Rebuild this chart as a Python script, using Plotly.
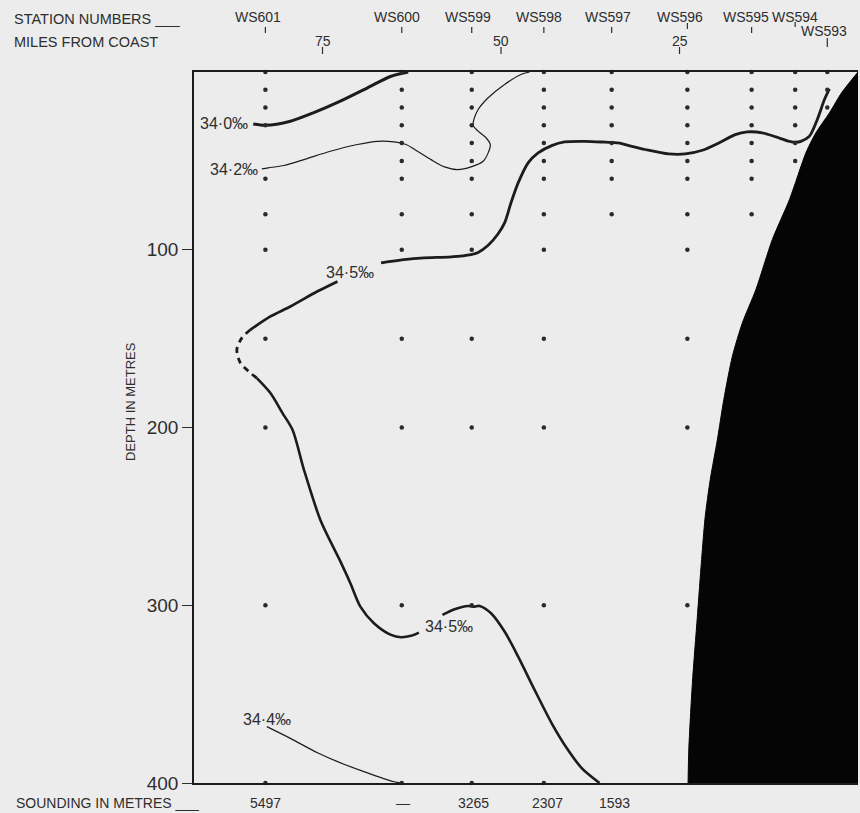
import plotly.graph_objects as go

# ---------------- data ----------------
stations = ["WS601", "WS600", "WS599", "WS598", "WS597", "WS596", "WS595", "WS594", "WS593"]
station_miles = [83.0, 63.9, 54.1, 44.0, 34.5, 23.9, 14.9, 8.8, 4.3]
station_depths = [
    [0, 10, 20, 30, 60, 80, 100, 150, 200, 300, 400],
    [0, 10, 20, 30, 40, 50, 60, 80, 100, 150, 200, 300, 400],
    [0, 10, 20, 30, 40, 50, 60, 80, 100, 150, 200, 300, 400],
    [0, 10, 20, 30, 40, 50, 60, 80, 100, 150, 200, 300, 400],
    [0, 10, 20, 30, 40, 50, 60, 80],
    [0, 10, 20, 30, 40, 50, 60, 80, 100, 150, 200, 300],
    [0, 10, 20, 30, 40, 50, 60, 80],
    [0, 10, 20, 30, 40, 50],
    [0, 10, 20],
]
mile_ticks = [75, 50, 25]
depth_ticks = [100, 200, 300, 400]
sounding_labels = ["5497", "—", "3265", "2307", "1593"]

# isohaline 34.0 per mille
s340_miles = [84.7, 83.0, 79.5, 76.3, 72.5, 68.7, 65.4, 63.0]
s340_depth = [29.2, 30.0, 27.7, 23.0, 16.4, 8.9, 2.4, 0.0]

# isohaline 34.2 per mille
s342_miles = [83.5, 82.6, 80.4, 77.6, 73.9, 70.1, 67.3, 65.0, 63.3, 61.7, 59.8, 57.9, 56.1,
              54.2, 52.5, 51.8, 51.5, 52.1, 53.2, 53.9, 53.8, 53.2, 51.8, 49.5, 47.2, 46.0]
s342_depth = [54.5, 53.9, 52.6, 49.3, 44.6, 40.8, 39.0, 39.3, 40.8, 44.6, 49.3, 53.4, 54.9,
              53.4, 50.2, 45.5, 40.8, 37.0, 33.3, 30.0, 26.7, 21.1, 14.5, 7.0, 1.4, 0.0]

# isohaline 34.5 per mille (pieces: upper, to label, dashed, middle, lower)
s345a_miles = [4.0, 4.7, 5.7, 6.8, 8.0, 8.7, 9.6, 11.5, 13.4, 15.5, 17.2, 19.5, 21.8, 24.2,
               26.5, 29.8, 32.1, 33.6, 35.4, 38.2, 41.1, 42.9, 44.8, 46.2, 47.6, 48.6, 49.5,
               50.4, 51.8, 53.2, 54.2, 57.0, 60.8, 63.6, 66.8]
s345a_depth = [9.5, 15.5, 26.7, 36.1, 39.0, 39.5, 39.0, 36.5, 34.2, 33.7, 35.2, 39.9, 44.0, 46.1,
               46.1, 43.6, 41.4, 39.9, 39.5, 39.0, 39.3, 41.4, 45.5, 51.1, 62.4, 73.6, 84.9,
               91.0, 97.5, 101.5, 102.7, 104.0, 104.6, 105.6, 107.4]
s345b_miles = [72.9, 75.7, 79.5, 82.3, 85.1]
s345b_depth = [117.8, 123.4, 131.9, 137.5, 145.0]
s345c_miles = [85.1, 86.3, 87.0, 86.5, 85.1, 84.2]
s345c_depth = [145.0, 149.6, 156.2, 163.7, 169.3, 172.2]
s345d_miles = [84.2, 82.3, 80.6, 79.2, 77.6, 75.3, 72.6, 71.1, 69.7, 67.8, 65.4, 64.0, 62.6, 61.5]
s345d_depth = [172.2, 180.6, 191.9, 201.3, 223.8, 252.0, 274.5, 287.6, 300.8, 310.1, 316.7,
               318.0, 317.2, 315.4]
s345e_miles = [58.2, 56.5, 54.6, 53.7, 53.0, 51.4, 49.5, 47.6, 45.3, 42.9, 40.8, 38.7, 36.2]
s345e_depth = [305.4, 302.2, 300.4, 300.8, 300.4, 304.5, 314.8, 328.9, 347.6, 366.4, 380.3,
               391.6, 400.0]

# isohaline 34.4 per mille
s344_miles = [82.8, 79.5, 75.7, 72.9, 69.2, 65.0, 64.0]
s344_depth = [368.3, 374.9, 383.0, 388.0, 393.6, 399.3, 400.0]

# contour labels
iso_labels = ["34·0‰", "34·2‰", "34·5‰", "34·5‰", "34·4‰"]
iso_label_miles = [88.8, 87.4, 71.1, 57.3, 82.8]
iso_label_depth = [29.0, 54.9, 112.7, 312.0, 364.2]

# sea bed profile
bed_miles = [0.0, 2.3, 4.0, 5.9, 7.3, 9.6, 12.0, 14.3, 16.2, 17.6, 18.8, 19.7, 20.7, 21.4,
             21.8, 22.5, 23.2, 23.7, 23.8]
bed_depth = [0.0, 11.7, 23.0, 34.2, 45.5, 71.8, 94.3, 122.4, 141.2, 160.0, 184.4, 206.9,
             229.4, 250.1, 268.8, 306.4, 343.9, 381.4, 400.0]

# ---------------- style ----------------
BG = "#ececec"
INK = "#1c1c1c"
TXT = "#2e2e2e"
FONT = "Liberation Sans"
X_RANGE = [93.0, 0.0]
Y_RANGE = [400, 0]
ML, MR, MT, MB = 194, 2, 72, 30
W, H = 860, 813
PW = W - ML - MR
PH = H - MT - MB


def xp(px):
    return (px - ML) / PW


def yp(py):
    return (H - MB - py) / PH


fig = go.Figure()

# sea bed: smooth profile filled to the coast line (x = 0)
fig.add_trace(go.Scatter(
    x=bed_miles, y=bed_depth,
    mode="lines", fill="tozerox", fillcolor="#050505",
    line=dict(width=1, color="#050505", shape="spline", smoothing=0.7),
    hoverinfo="skip", showlegend=False))

# isohalines
def add_line(xs, ys, width, dash="solid"):
    fig.add_trace(go.Scatter(
        x=xs, y=ys, mode="lines",
        line=dict(color=INK, width=width, dash=dash, shape="spline", smoothing=0.8),
        showlegend=False, hoverinfo="skip", cliponaxis=False))

add_line(s340_miles, s340_depth, 3.0)
add_line(s342_miles, s342_depth, 1.2)
add_line(s345a_miles, s345a_depth, 2.8)
add_line(s345b_miles, s345b_depth, 2.8)
add_line(s345c_miles, s345c_depth, 2.8, dash="6px,5px")
add_line(s345d_miles, s345d_depth, 2.6)
add_line(s345e_miles, s345e_depth, 2.6)
add_line(s344_miles, s344_depth, 1.2)

# station sample dots
dot_x, dot_y = [], []
for m, ds in zip(station_miles, station_depths):
    for d in ds:
        dot_x.append(m)
        dot_y.append(d)
fig.add_trace(go.Scatter(
    x=dot_x, y=dot_y, mode="markers",
    marker=dict(size=4.5, color="#2a2a2a"),
    showlegend=False, hoverinfo="skip", cliponaxis=False))

annotations = []
shapes = []

# contour labels
for t, m, d in zip(iso_labels, iso_label_miles, iso_label_depth):
    annotations.append(dict(x=m, y=d, xref="x", yref="y", text=t, showarrow=False,
                            xanchor="center", yanchor="middle",
                            font=dict(family=FONT, size=16, color=TXT)))

# station labels and ticks (top)
st_label_py = [17, 17, 17, 17, 17, 17, 17, 17, 31]
st_xshift = [-7, -5, -4, -5, -4, -7, -6, 0, -3]
st_tick_py = [(27, 33), (27, 33), (27, 33), (27, 33), (27, 33), (23, 29), (27, 33), (22, 27), (38, 47)]
for s, m, ly, xs, (t0, t1) in zip(stations, station_miles, st_label_py, st_xshift, st_tick_py):
    annotations.append(dict(x=m, y=yp(ly), xref="x", yref="paper", text=s, showarrow=False,
                            xshift=xs, xanchor="center", yanchor="middle",
                            font=dict(family=FONT, size=14, color=TXT)))
    shapes.append(dict(type="line", xref="x", yref="paper", x0=m, x1=m, y0=yp(t1), y1=yp(t0),
                       line=dict(color=TXT, width=1.2)))

# miles ticks (top)
for mt in mile_ticks:
    annotations.append(dict(x=mt, y=yp(41), xref="x", yref="paper", text=str(mt),
                            showarrow=False, xanchor="center", yanchor="middle",
                            font=dict(family=FONT, size=14, color=TXT)))
    shapes.append(dict(type="line", xref="x", yref="paper", x0=mt, x1=mt, y0=yp(54), y1=yp(47),
                       line=dict(color=TXT, width=1.2)))

annotations.append(dict(x=xp(12), y=yp(19), xref="paper", yref="paper",
                        text="STATION NUMBERS ___", showarrow=False, xanchor="left",
                        yanchor="middle", font=dict(family=FONT, size=14.5, color=TXT)))
annotations.append(dict(x=xp(12), y=yp(42), xref="paper", yref="paper",
                        text="MILES FROM COAST", showarrow=False, xanchor="left",
                        yanchor="middle", font=dict(family=FONT, size=14.5, color=TXT)))

# soundings (bottom)
annotations.append(dict(x=xp(14), y=yp(803), xref="paper", yref="paper",
                        text="SOUNDING IN METRES ___", showarrow=False, xanchor="left",
                        yanchor="middle", font=dict(family=FONT, size=14, color=TXT)))
snd_xshift = [0, 1, 2, 4, 3]
for lab, m, xs in zip(sounding_labels, station_miles, snd_xshift):
    annotations.append(dict(x=m, y=yp(803), xref="x", yref="paper", text=lab,
                            showarrow=False, xshift=xs, xanchor="center", yanchor="middle",
                            font=dict(family=FONT, size=14, color=TXT)))

# y title
annotations.append(dict(x=xp(130), y=yp(402), xref="paper", yref="paper",
                        text="DEPTH IN METRES", textangle=-90, showarrow=False,
                        xanchor="center", yanchor="middle",
                        font=dict(family=FONT, size=13, color=TXT)))

fig.update_layout(
    width=W, height=H,
    margin=dict(l=ML, r=MR, t=MT, b=MB),
    paper_bgcolor=BG, plot_bgcolor=BG,
    showlegend=False,
    annotations=annotations,
    shapes=shapes,
    xaxis=dict(range=X_RANGE, showgrid=False, zeroline=False, showticklabels=False,
               ticks="", showline=True, mirror=True, linecolor=INK, linewidth=2),
    yaxis=dict(range=Y_RANGE, showgrid=False, zeroline=False, tickvals=depth_ticks,
               ticks="outside", ticklen=10, tickwidth=1.3, tickcolor=TXT,
               tickfont=dict(family=FONT, size=19, color=TXT),
               showline=True, linecolor=INK, linewidth=1.5, mirror=False),
)

fig.write_html("out.html",
               config={"displayModeBar": False},
               post_script="document.body.style.margin='0px';"
                           "document.body.style.overflow='hidden';"
                           "document.body.style.background='" + BG + "';")
